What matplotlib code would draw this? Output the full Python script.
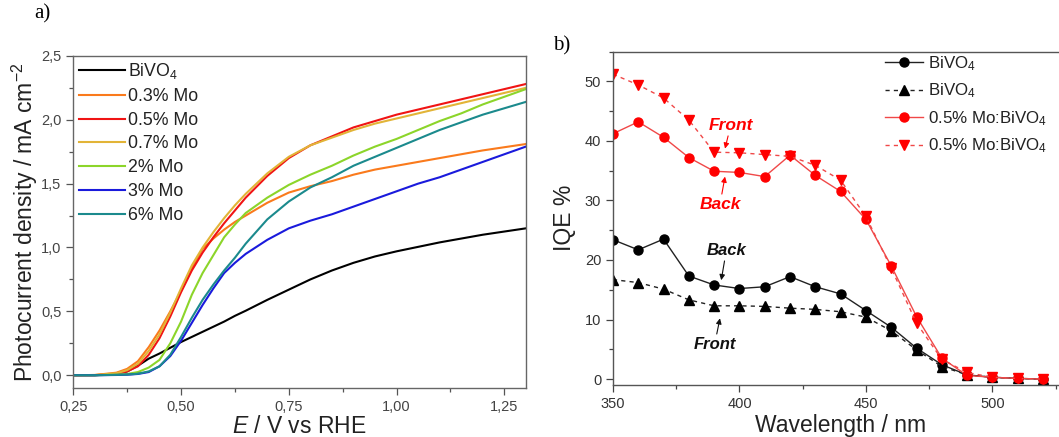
import numpy as np
import matplotlib
matplotlib.use("Agg")
import matplotlib.pyplot as plt
from matplotlib.ticker import MultipleLocator, FixedLocator

plt.rcParams['font.family'] = ['Liberation Sans', 'DejaVu Sans']
plt.rcParams['mathtext.fontset'] = 'custom'
plt.rcParams['mathtext.rm'] = 'Liberation Sans'
plt.rcParams['mathtext.it'] = 'Liberation Sans:italic'
plt.rcParams['mathtext.bf'] = 'Liberation Sans:bold'

# ---- panel a) photocurrent vs potential
potential = [0.25, 0.30, 0.35, 0.375, 0.40, 0.425, 0.45, 0.475, 0.50, 0.525, 0.55, 0.575,
             0.60, 0.625, 0.65, 0.70, 0.75, 0.80, 0.85, 0.90, 0.95, 1.00, 1.05, 1.10,
             1.15, 1.20, 1.25, 1.30]
j_bivo4 = [0.0, 0.0, 0.01, 0.03, 0.075, 0.13, 0.17, 0.215, 0.26, 0.30, 0.34, 0.38,
           0.42, 0.465, 0.505, 0.59, 0.67, 0.75, 0.82, 0.88, 0.93, 0.97, 1.005, 1.04,
           1.07, 1.10, 1.125, 1.15]
j_mo03 = [0.0, 0.002, 0.02, 0.05, 0.11, 0.22, 0.35, 0.50, 0.66, 0.84, 0.99, 1.07,
          1.14, 1.20, 1.25, 1.35, 1.43, 1.48, 1.52, 1.57, 1.61, 1.64, 1.67, 1.70,
          1.73, 1.76, 1.785, 1.81]
j_mo05 = [0.0, 0.001, 0.01, 0.03, 0.07, 0.16, 0.29, 0.46, 0.65, 0.82, 0.96, 1.08,
          1.19, 1.29, 1.39, 1.56, 1.70, 1.80, 1.87, 1.94, 1.99, 2.04, 2.08, 2.12,
          2.16, 2.20, 2.24, 2.28]
j_mo07 = [0.0, 0.002, 0.015, 0.04, 0.09, 0.19, 0.32, 0.49, 0.68, 0.86, 1.00, 1.12,
          1.23, 1.33, 1.42, 1.58, 1.71, 1.80, 1.86, 1.92, 1.97, 2.01, 2.05, 2.09,
          2.13, 2.17, 2.21, 2.25]
j_mo2 = [0.0, 0.0, 0.005, 0.01, 0.025, 0.06, 0.12, 0.25, 0.42, 0.63, 0.80, 0.94,
         1.08, 1.18, 1.27, 1.39, 1.49, 1.57, 1.64, 1.72, 1.79, 1.85, 1.92, 1.99,
         2.05, 2.12, 2.18, 2.24]
j_mo3 = [0.0, 0.0, 0.002, 0.004, 0.01, 0.025, 0.07, 0.15, 0.27, 0.41, 0.55, 0.68,
         0.80, 0.88, 0.95, 1.06, 1.15, 1.21, 1.26, 1.32, 1.38, 1.44, 1.50, 1.55,
         1.61, 1.67, 1.73, 1.79]
j_mo6 = [0.0, 0.0, 0.003, 0.005, 0.012, 0.03, 0.07, 0.16, 0.30, 0.45, 0.59, 0.71,
         0.82, 0.92, 1.03, 1.22, 1.36, 1.47, 1.55, 1.64, 1.71, 1.78, 1.85, 1.92,
         1.98, 2.04, 2.09, 2.14]

series_a = [
    ('BiVO$_4$', j_bivo4, '#000000'),
    ('0.3% Mo', j_mo03, '#FA7A1C'),
    ('0.5% Mo', j_mo05, '#F01414'),
    ('0.7% Mo', j_mo07, '#E2B437'),
    ('2% Mo', j_mo2, '#8CD52A'),
    ('3% Mo', j_mo3, '#1A1ADC'),
    ('6% Mo', j_mo6, '#1B8A8D'),
]
a_xticks = [0.25, 0.50, 0.75, 1.00, 1.25]
a_xticklabels = ['0,25', '0,50', '0,75', '1,00', '1,25']
a_yticks = [0.0, 0.5, 1.0, 1.5, 2.0, 2.5]
a_yticklabels = ['0,0', '0,5', '1,0', '1,5', '2,0', '2,5']

# ---- panel b) IQE spectra
wavelength = [350, 360, 370, 380, 390, 400, 410, 420, 430, 440, 450, 460, 470, 480,
              490, 500, 510, 520]
iqe_bivo4_back = [23.4, 21.7, 23.5, 17.3, 15.8, 15.2, 15.5, 17.2, 15.5, 14.3, 11.5, 8.7,
                  5.2, 2.4, 0.7, 0.3, 0.1, 0.0]
iqe_bivo4_front = [16.7, 16.2, 15.1, 13.3, 12.3, 12.3, 12.2, 11.9, 11.7, 11.3, 10.4, 8.1,
                   4.9, 2.1, 0.7, 0.3, 0.1, 0.0]
iqe_mo_back = [41.2, 43.2, 40.6, 37.2, 34.9, 34.7, 34.0, 37.6, 34.2, 31.5, 26.8, 19.0,
               10.5, 3.5, 0.6, 0.3, 0.1, 0.0]
iqe_mo_front = [51.2, 49.4, 47.2, 43.5, 38.1, 38.0, 37.7, 37.4, 35.9, 33.4, 27.3, 18.6,
                9.4, 3.3, 1.1, 0.3, 0.1, 0.0]

fig = plt.figure(figsize=(10.59, 4.37), dpi=100)

# ================= panel a
ax1 = fig.add_axes([0.0692, 0.1121, 0.4274, 0.760])
for label, vals, col in series_a:
    ax1.plot(potential, vals, color=col, lw=1.5, label=label)
ax1.set_xlim(0.25, 1.30)
ax1.set_ylim(-0.1, 2.5)
ax1.xaxis.set_major_locator(FixedLocator(a_xticks))
ax1.set_xticklabels(a_xticklabels)
ax1.xaxis.set_minor_locator(MultipleLocator(0.125))
ax1.yaxis.set_major_locator(FixedLocator(a_yticks))
ax1.set_yticklabels(a_yticklabels)
ax1.yaxis.set_minor_locator(MultipleLocator(0.25))
ax1.tick_params(which='both', direction='out', colors='#555555', labelcolor='#444444',
                labelsize=10.5, width=0.9)
ax1.tick_params(which='major', length=5)
ax1.tick_params(which='minor', length=3)
for s in ax1.spines.values():
    s.set_color('#666666')
    s.set_linewidth(1.0)
ax1.set_xlabel('$E$ / V vs RHE', fontsize=16.5, color='#222222', labelpad=1)
ax1.set_ylabel('Photocurrent density / mA cm$^{-2}$', fontsize=16.5, color='#222222',
               labelpad=1)
ax1.legend(loc='upper left', frameon=False, fontsize=12.8, handlelength=2.6,
           handletextpad=0.2, labelspacing=0.38, borderaxespad=0.1, borderpad=0.2,
           labelcolor='#222222')

# ================= panel b
ax2 = fig.add_axes([0.5788, 0.119, 0.430, 0.763])
ax2.plot(wavelength, iqe_bivo4_back, '-o', color='#222222', lw=1.0, ms=6.5,
         markerfacecolor='black', markeredgecolor='black', label='BiVO$_4$')
ax2.plot(wavelength, iqe_bivo4_front, '--^', color='#222222', lw=1.0, ms=6.5,
         markerfacecolor='black', markeredgecolor='black', label='BiVO$_4$',
         dashes=(3, 3))
ax2.plot(wavelength, iqe_mo_back, '-o', color='#F04848', lw=1.0, ms=6.5,
         markerfacecolor='#FF0000', markeredgecolor='#FF0000', label='0.5% Mo:BiVO$_4$')
ax2.plot(wavelength, iqe_mo_front, '--v', color='#F04848', lw=1.0, ms=6.5,
         markerfacecolor='#FF0000', markeredgecolor='#FF0000', label='0.5% Mo:BiVO$_4$',
         dashes=(3, 3))
ax2.set_xlim(350, 530)
ax2.set_ylim(-1, 55)
ax2.xaxis.set_major_locator(MultipleLocator(50))
ax2.xaxis.set_minor_locator(MultipleLocator(25))
ax2.yaxis.set_major_locator(MultipleLocator(10))
ax2.yaxis.set_minor_locator(MultipleLocator(5))
ax2.tick_params(which='both', direction='out', colors='#444444', labelcolor='#333333',
                labelsize=10.5, width=0.9)
ax2.tick_params(which='major', length=5)
ax2.tick_params(which='minor', length=3)
for s in ax2.spines.values():
    s.set_color('#555555')
    s.set_linewidth(1.0)
ax2.set_xlabel('Wavelength / nm', fontsize=16.5, color='#222222', labelpad=2)
ax2.set_ylabel('IQE %', fontsize=16.5, color='#222222', labelpad=6)
ax2.legend(loc='upper left', bbox_to_anchor=(0.836, 0.876), bbox_transform=fig.transFigure,
           frameon=False, fontsize=12.2, handlelength=2.2, handletextpad=0.3,
           labelspacing=0.52, borderpad=0, borderaxespad=0, labelcolor='#222222')

arrow_kw = dict(arrowstyle='-|>', lw=0.8, mutation_scale=8, shrinkA=0, shrinkB=0)
ax2.annotate('Front', xy=(394.3, 38.7), xytext=(396.5, 41.3), color='#FF0000',
             fontsize=12.5, fontweight='bold', fontstyle='italic', ha='center', va='bottom',
             arrowprops=dict(color='#FF0000', **arrow_kw))
ax2.annotate('Back', xy=(394.3, 34.0), xytext=(392.3, 30.6), color='#FF0000',
             fontsize=12.5, fontweight='bold', fontstyle='italic', ha='center', va='top',
             arrowprops=dict(color='#FF0000', **arrow_kw))
ax2.annotate('Back', xy=(392.8, 16.6), xytext=(394.8, 20.3), color='#111111',
             fontsize=12, fontweight='bold', fontstyle='italic', ha='center', va='bottom',
             arrowprops=dict(color='#111111', **arrow_kw))
ax2.annotate('Front', xy=(392.3, 10.2), xytext=(390.2, 7.1), color='#111111',
             fontsize=12, fontweight='bold', fontstyle='italic', ha='center', va='top',
             arrowprops=dict(color='#111111', **arrow_kw))

fig.text(0.032, 0.968, 'a)', fontsize=15, family='Liberation Serif', va='center')
fig.text(0.522, 0.895, 'b)', fontsize=15, family='Liberation Serif', va='center')

fig.savefig('out.png', dpi=100)
